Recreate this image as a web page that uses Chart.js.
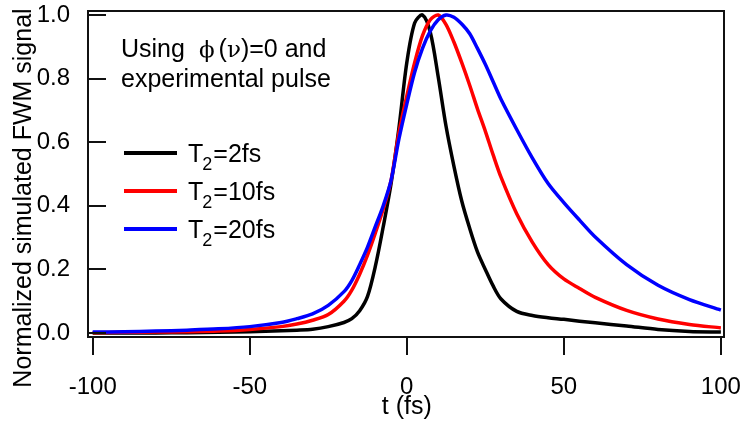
<!DOCTYPE html>
<html>
<head>
<meta charset="utf-8">
<script src="https://cdn.jsdelivr.net/npm/chart.js@4.4.0/dist/chart.umd.min.js"></script>
<style>
  html, body { margin: 0; padding: 0; background: #fff; }
  #wrap { width: 742px; height: 423px; }
</style>
</head>
<body>
<div id="wrap"><canvas id="fwmChart"></canvas></div>
<script>
// t (fs) sample points
const times = [-100, -90, -80, -70, -60, -50, -40, -35, -30, -25, -20, -17.5, -15, -12.5, -10, -7.5, -5, -2.5,
  0, 2.5, 5, 7.5, 10, 12.5, 15, 17.5, 20, 22.5, 25, 27.5, 30, 35, 40, 45, 50, 55, 60, 70, 80, 90, 100];

const signalT2_2 = [0.0, 0.0, 0.0, 0.001, 0.002, 0.004, 0.007, 0.009, 0.012, 0.02, 0.033, 0.045, 0.07, 0.115, 0.21, 0.334, 0.47, 0.645,
  0.85, 0.975, 1.0, 0.945, 0.806, 0.65, 0.525, 0.415, 0.33, 0.255, 0.2, 0.148, 0.107, 0.068, 0.055, 0.048, 0.043, 0.037, 0.032, 0.022, 0.011, 0.005, 0.003];

const signalT2_10 = [0.001, 0.002, 0.003, 0.004, 0.006, 0.011, 0.02, 0.028, 0.04, 0.058, 0.1, 0.135, 0.185, 0.245, 0.315, 0.39, 0.48, 0.63,
  0.745, 0.85, 0.935, 0.985, 1.0, 0.97, 0.915, 0.85, 0.78, 0.705, 0.635, 0.56, 0.49, 0.375, 0.285, 0.215, 0.17, 0.14, 0.112, 0.071, 0.044, 0.027, 0.016];

const signalT2_20 = [0.003, 0.004, 0.006, 0.009, 0.013, 0.02, 0.033, 0.045, 0.06, 0.087, 0.13, 0.165, 0.215, 0.27, 0.335, 0.4, 0.48, 0.61,
  0.72, 0.82, 0.895, 0.95, 0.985, 1.0, 0.993, 0.972, 0.942, 0.895, 0.845, 0.79, 0.735, 0.64, 0.55, 0.47, 0.41, 0.355, 0.302, 0.215, 0.15, 0.105, 0.072];

const t2Values = [2, 10, 20];
const seriesColors = ['#000000', '#ff0000', '#0000ff'];
const xTicks = [-100, -50, 0, 50, 100];
const yTicks = [0, 0.2, 0.4, 0.6, 0.8, 1.0];

const SANS = '"Liberation Sans", Arial, sans-serif';
const SERIF = '"DejaVu Serif", "Liberation Serif", serif';

const toPoints = arr => arr.map((v, i) => ({ x: times[i], y: v }));

// fixed axis sizes, no label-overflow padding
const fixBox = (w, h) => s => {
  if (w) s.width = w;
  if (h) s.height = h;
  s.paddingLeft = s.paddingRight = s.paddingTop = s.paddingBottom = 0;
};

const framePlugin = {
  id: 'frame',
  afterDraw(chart) {
    const ctx = chart.ctx;
    const a = chart.chartArea;
    const xs = chart.scales.x, ys = chart.scales.y;
    ctx.save();
    ctx.strokeStyle = '#111';
    ctx.lineWidth = 2;
    ctx.strokeRect(a.left, a.top, a.right - a.left, a.bottom - a.top);
    ctx.beginPath();
    yTicks.forEach(v => {
      const y = Math.round(ys.getPixelForValue(v));
      ctx.moveTo(a.left, y);
      ctx.lineTo(a.left + 18, y);
    });
    xTicks.forEach(v => {
      const x = Math.round(xs.getPixelForValue(v));
      ctx.moveTo(x, a.bottom);
      ctx.lineTo(x, a.bottom + 18);
    });
    ctx.stroke();

    // axis titles
    ctx.fillStyle = '#000';
    ctx.font = '25px ' + SANS;
    ctx.textAlign = 'center';
    ctx.textBaseline = 'middle';
    ctx.fillText('t (fs)', xs.getPixelForValue(0), 407);
    ctx.save();
    ctx.translate(24, 198);
    ctx.rotate(-Math.PI / 2);
    ctx.fillText('Normalized simulated FWM signal', 0, 0);
    ctx.restore();

    // annotation
    ctx.textAlign = 'left';
    ctx.textBaseline = 'alphabetic';
    let x = 121;
    const base1 = 57;
    const part = (txt, font, gap) => {
      ctx.font = font;
      ctx.fillText(txt, x, base1);
      x += ctx.measureText(txt).width + (gap || 0);
    };
    part('Using', '25px ' + SANS, 14);
    part('\u03D5', '23px ' + SERIF, 4);
    part('(', '25px ' + SANS, 0);
    part('\u03BD', '23px ' + SERIF, 0);
    part(')=0 and', '25px ' + SANS, 0);
    ctx.font = '25px ' + SANS;
    ctx.fillText('experimental pulse', 121, 87);

    // legend
    const rows = [153, 191, 229];
    chart.data.datasets.forEach((ds, i) => {
      const y = rows[i];
      ctx.strokeStyle = ds.borderColor;
      ctx.lineWidth = 4;
      ctx.beginPath();
      ctx.moveTo(124, y);
      ctx.lineTo(177, y);
      ctx.stroke();
      ctx.fillStyle = '#000';
      let lx = 188;
      ctx.font = '25px ' + SANS;
      ctx.fillText('T', lx, y + 9);
      lx += ctx.measureText('T').width - 1;
      ctx.font = '18px ' + SANS;
      ctx.fillText('2', lx, y + 17);
      lx += ctx.measureText('2').width + 1;
      ctx.font = '25px ' + SANS;
      ctx.fillText('=' + t2Values[i] + 'fs', lx, y + 9);
    });
    ctx.restore();
  }
};

const datasets = [signalT2_2, signalT2_10, signalT2_20].map((arr, i) => ({
  label: 'T2=' + t2Values[i] + 'fs',
  data: toPoints(arr),
  borderColor: seriesColors[i],
  borderWidth: 3.5,
  pointRadius: 0,
  fill: false,
  tension: 0.3,
  order: 3 - i
}));

new Chart(document.getElementById('fwmChart'), {
  type: 'line',
  data: { datasets },
  options: {
    responsive: true,
    maintainAspectRatio: false,
    animation: false,
    layout: { autoPadding: false, padding: { top: 11, right: 18, left: 0, bottom: 0 } },
    plugins: { legend: { display: false }, tooltip: { enabled: false } },
    scales: {
      x: {
        type: 'linear',
        min: -101.5,
        max: 101,
        afterBuildTicks: s => { s.ticks = xTicks.map(v => ({ value: v })); },
        afterFit: fixBox(0, 86),
        grid: { display: false },
        border: { display: false },
        ticks: { color: '#000', font: { family: SANS, size: 24 }, padding: 28, maxRotation: 0, callback: v => String(v) }
      },
      y: {
        min: -0.0126,
        max: 1.0126,
        afterBuildTicks: s => { s.ticks = yTicks.map(v => ({ value: v })); },
        afterFit: fixBox(88, 0),
        grid: { display: false },
        border: { display: false },
        ticks: { color: '#000', font: { family: SANS, size: 24 }, padding: 10, callback: v => v.toFixed(1) }
      }
    }
  },
  plugins: [framePlugin]
});
</script>
</body>
</html>
